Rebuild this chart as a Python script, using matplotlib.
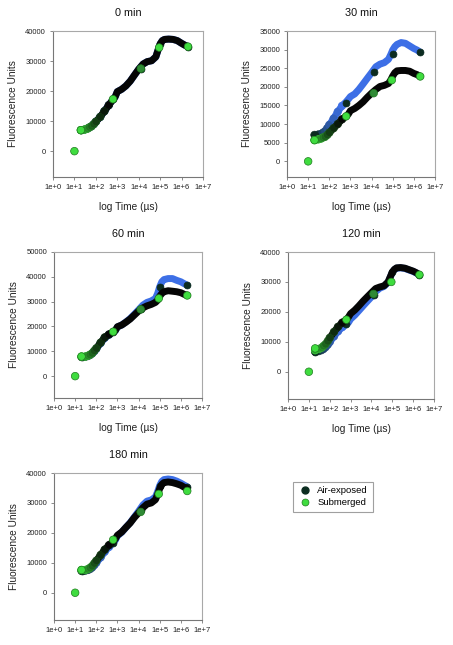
import numpy as np
import matplotlib
matplotlib.use("Agg")
import matplotlib.pyplot as plt
from matplotlib.colors import to_rgb
from matplotlib.lines import Line2D

plt.rcParams['font.family'] = ['Liberation Sans', 'DejaVu Sans']

# ---------------- data ----------------
panel_titles = ["0 min", "30 min", "60 min", "120 min", "180 min"]

time_us = [20, 30, 40, 50, 63, 80, 100, 160, 250, 400, 630, 800, 1000, 1600, 2500,
           4000, 6300, 1e4, 1.6e4, 2.5e4, 4e4, 6.3e4, 8e4, 1e5, 1.26e5, 1.6e5,
           2.5e5, 4e5, 6.3e5, 1e6, 1.4e6, 2e6]

sub_0 = [7000, 7200, 7500, 7900, 8300, 9000, 9800, 11400, 13300, 15300, 17200, 18100,
         19800, 20600, 21700, 23300, 25300, 27300, 29000, 29800, 30100, 31400, 33700,
         35700, 36800, 37200, 37300, 37200, 36800, 35900, 35300, 34800]
air_0 = [7000, 7200, 7500, 7900, 8300, 9000, 9800, 11400, 13300, 15300, 17200, 18100,
         19800, 20600, 21700, 23300, 25300, 27300, 29000, 29800, 30100, 31400, 33700,
         35700, 36800, 37200, 37300, 37200, 36800, 35900, 35300, 34800]

sub_30 = [5700, 5900, 6100, 6400, 6600, 7100, 7700, 8900, 10000, 11300, 12100, 12700,
          13600, 14200, 15000, 16000, 17200, 18300, 19300, 20100, 20400, 20900, 21800,
          22900, 23800, 24300, 24400, 24400, 24200, 23600, 23300, 22800]
air_30 = [7100, 7200, 7300, 7700, 8100, 8900, 9800, 11500, 13300, 14900, 16000, 16700,
          17400, 18100, 19300, 20800, 22300, 23800, 25400, 26100, 26500, 27400, 28600,
          29900, 30800, 31400, 31900, 31700, 31000, 30300, 29900, 29300]

sub_60 = [7900, 7900, 8200, 8600, 9200, 10200, 11200, 13500, 15600, 16800, 17900, 18400,
          19900, 20600, 21700, 23000, 24600, 26200, 27500, 28300, 28900, 29700, 30600,
          32200, 33300, 34000, 34400, 34200, 34000, 33600, 33000, 32500]
air_60 = [7700, 7800, 8100, 8500, 9100, 10000, 11000, 13300, 15400, 16700, 17800, 18300,
          19800, 20600, 21800, 23200, 24900, 26700, 28600, 29700, 30300, 31300, 33300,
          36000, 38000, 38900, 39300, 39300, 38600, 38000, 37300, 36600]

sub_120 = [7200, 7600, 8000, 8600, 9200, 10200, 11300, 13300, 15000, 16400, 17400, 18300,
           19400, 20600, 22000, 23600, 25000, 26400, 27800, 28300, 28700, 30000, 31700,
           33300, 34200, 34700, 34800, 34600, 34100, 33600, 33100, 32400]
air_120 = [6700, 6900, 7200, 7600, 8200, 9000, 9900, 11800, 13500, 14900, 15800, 16500,
           17600, 18900, 20400, 22000, 23500, 25000, 26800, 27900, 28500, 29900, 31600,
           33200, 34100, 34600, 34700, 34500, 34000, 33500, 33000, 32300]

sub_180 = [7600, 7600, 7900, 8300, 8900, 9800, 10700, 12600, 14400, 15900, 17200, 18000,
           19200, 20300, 21800, 23300, 25100, 26700, 28400, 29600, 30000, 31100, 32900,
           34800, 36200, 36800, 37000, 36800, 36400, 35900, 35300, 34800]
air_180 = [7300, 7400, 7600, 7900, 8400, 9200, 10000, 11800, 13700, 15300, 16700, 17600,
           19000, 20200, 21800, 23400, 25300, 27200, 29300, 30600, 31000, 32000, 33800,
           35800, 37200, 37800, 38000, 37800, 37300, 36600, 36000, 35400]

# highlighted points
key_time_sub = [10, 20, 630, 1.26e4, 9e4, 2e6]
key_sub_0 = [0, 7000, 17300, 27500, 34500, 34800]
key_sub_30 = [0, 5700, 12100, 18300, 21800, 22800]
key_sub_60 = [0, 7900, 17900, 26900, 31300, 32500]
key_sub_120 = [0, 7800, 17400, 26000, 30000, 32400]
key_sub_180 = [0, 7600, 17700, 27000, 33000, 34000]

key_time_air = [20, 630, 1.26e4, 1e5, 2e6]
key_air_0 = [7000, 17200, 27500, 35700, 34800]
key_air_30 = [7000, 15700, 24100, 28800, 29300]
key_air_60 = [7700, 17800, 27000, 36000, 36600]
key_air_120 = [6700, 15800, 25500, 33200, 32300]
key_air_180 = [7300, 16700, 27500, 35800, 35400]

ylims = [(-8600, 40000), (-4200, 35000), (-8800, 50000), (-9100, 40000), (-9100, 40000)]
ytick_steps = [10000, 5000, 10000, 10000, 10000]
xtick_labels = ["1e+0", "1e+1", "1e+2", "1e+3", "1e+4", "1e+5", "1e+6", "1e+7"]

sub_all = [sub_0, sub_30, sub_60, sub_120, sub_180]
air_all = [air_0, air_30, air_60, air_120, air_180]
ksub_all = [key_sub_0, key_sub_30, key_sub_60, key_sub_120, key_sub_180]
kair_all = [key_air_0, key_air_30, key_air_60, key_air_120, key_air_180]

# ---------------- style ----------------
BLUE = "#3d6fe6"
DARK = "#0c2c20"
GREEN = "#3fdc3f"
GREEN_MID = "#2f8a35"
BLACK = "#050505"

W, H = 453, 645
fig = plt.figure(figsize=(W / 100, H / 100), dpi=100)

boxes = [(53, 31, 150, 146), (287, 31, 148, 146), (54, 252, 148, 146),
         (288, 252, 146, 147), (54, 473, 148, 147)]


def blend(c1, c2, f):
    a = np.array(to_rgb(c1)); b = np.array(to_rgb(c2))
    return tuple(a * (1 - f) + b * f)


n_early = 10
for i, (x0, y0, w, h) in enumerate(boxes):
    ax = fig.add_axes([x0 / W, 1 - (y0 + h) / H, w / W, h / H])
    t = np.array(time_us)
    sub = np.array(sub_all[i]); air = np.array(air_all[i])

    # air-exposed (blue band)
    ax.plot(t[5:], air[5:], color=BLUE, lw=5.0, solid_capstyle='round',
            solid_joinstyle='round', zorder=2)
    cols_air = [blend(DARK, BLUE, min(1, k / (n_early - 1))) for k in range(n_early)]
    ax.scatter(t[:n_early], air[:n_early], s=30, c=cols_air, edgecolors=cols_air,
               linewidths=0.4, zorder=2.5)
    ax.plot(key_time_air, kair_all[i], 'o', ms=5, color=DARK, mec=DARK,
            mew=0.5, zorder=3)

    # submerged (black band)
    ax.plot(t[5:], sub[5:], color=BLACK, lw=5.0, solid_capstyle='round',
            solid_joinstyle='round', zorder=4)
    cols_sub = [blend("#2fae2f", BLACK, min(1, k / (n_early - 1))) for k in range(n_early)]
    ax.scatter(t[:n_early], sub[:n_early], s=30, c=cols_sub,
               edgecolors=[blend("#3fd03f", BLACK, min(1, k / (n_early - 1)) * 0.9) for k in range(n_early)],
               linewidths=0.5, zorder=4.5)
    kc = [GREEN, GREEN, GREEN, GREEN_MID, GREEN, GREEN]
    ax.scatter(key_time_sub, ksub_all[i], s=30, c=kc, edgecolors="#1f7a1f",
               linewidths=0.5, zorder=5)

    ax.set_xscale('log')
    ax.set_xlim(1, 1e7)
    ax.set_xticks([10.0 ** k for k in range(8)])
    ax.set_xticklabels(xtick_labels)
    ax.xaxis.set_minor_locator(matplotlib.ticker.NullLocator())
    ax.set_ylim(*ylims[i])
    ax.set_yticks(np.arange(0, ylims[i][1] + 1, ytick_steps[i]))
    ax.tick_params(axis='both', labelsize=5.5, length=2.5, width=0.6,
                   color="#777777", labelcolor="#222222", pad=2.5)
    for side in ['left', 'bottom']:
        ax.spines[side].set_color("#777777"); ax.spines[side].set_linewidth(0.8)
    for side in ['top', 'right']:
        ax.spines[side].set_color("#a8a8a8"); ax.spines[side].set_linewidth(0.8)
    ax.set_title(panel_titles[i], fontsize=7.8, pad=11, color="#111111")
    ax.set_ylabel("Fluorescence Units", fontsize=7.3, labelpad=5, color="#222222")
    if i < 4:
        ax.set_xlabel("log Time (\u00b5s)", fontsize=7.3, labelpad=8, color="#222222")

handles = [Line2D([], [], ls='none', marker='o', ms=5, color=DARK, mec=DARK),
           Line2D([], [], ls='none', marker='o', ms=5, color=GREEN, mec="#1f7a1f", mew=0.5)]
leg = fig.legend(handles, ["Air-exposed", "Submerged"], loc='upper left',
                 bbox_to_anchor=(288 / W, 1 - 477 / H), fontsize=6.8, frameon=True,
                 fancybox=False, edgecolor="#888888", handletextpad=0.6,
                 borderpad=0.5, labelspacing=0.25, handlelength=1.5)
leg.get_frame().set_linewidth(0.8)

fig.savefig("out.png", dpi=100)
